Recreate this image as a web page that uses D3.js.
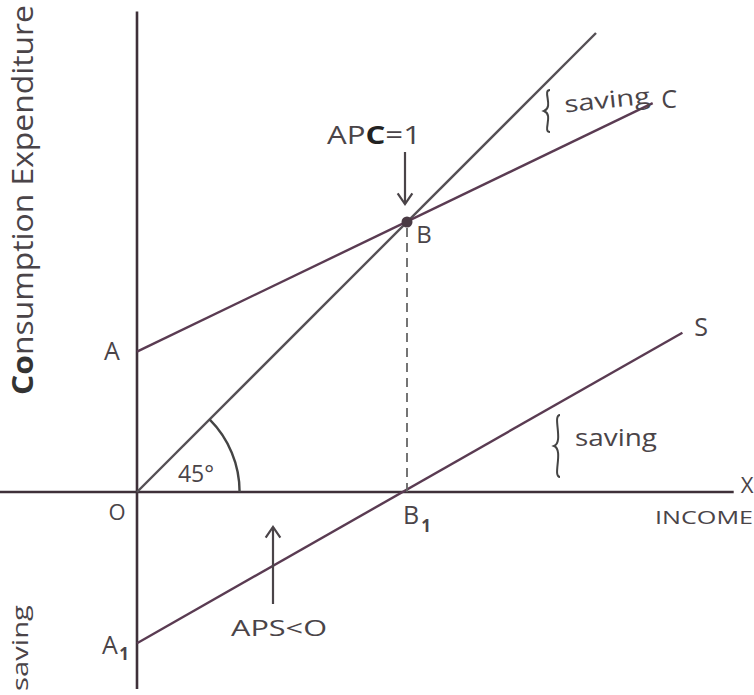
<!DOCTYPE html>
<html>
<head>
<meta charset="utf-8">
<script src="https://cdn.jsdelivr.net/npm/d3@7"></script>
<style>
  html, body { margin: 0; padding: 0; background: #ffffff; }
  svg { display: block; }
  text { font-family: "Open Sans", "Noto Sans", sans-serif; fill: #4a4448; }
</style>
</head>
<body>
<svg id="chart" width="754" height="695"></svg>
<script>
// ---- data (income / expenditure units) ----
const incomeExtent = [-51, 221];          // horizontal axis (income)
const valueExtent = [178, -73];           // vertical axis (expenditure / saving)
const line45 = [[0, 0], [170, 170]];      // 45 degree line
const consumption = [[0, 52], [191, 144]];// C line, starts at A
const saving = [[0, -56], [202, 59]];     // S line, starts at A1
const breakEven = [100, 100];             // point B
const breakEvenIncome = [100, 0];         // point B1
const angleLabel = "45°";

// ---- scales ----
const x = d3.scaleLinear().domain([0, 100]).range([137, 407]);
const y = d3.scaleLinear().domain([0, 100]).range([492, 222]);

const svg = d3.select("#chart");
const line = d3.line().x(d => x(d[0])).y(d => y(d[1]));

const axisColor = "#3e3039";
const cColor = "#5a3b52";
const gray = "#555055";

// axes
svg.append("line")
  .attr("x1", x(incomeExtent[0])).attr("x2", x(incomeExtent[1]))
  .attr("y1", y(0)).attr("y2", y(0))
  .attr("stroke", axisColor).attr("stroke-width", 2.6);
svg.append("line")
  .attr("x1", x(0)).attr("x2", x(0))
  .attr("y1", y(valueExtent[0])).attr("y2", y(valueExtent[1]))
  .attr("stroke", axisColor).attr("stroke-width", 2.6);

// 45 degree line
svg.append("path").datum(line45).attr("d", line)
  .attr("fill", "none").attr("stroke", gray).attr("stroke-width", 2.4);

// consumption line
svg.append("path").datum(consumption).attr("d", line)
  .attr("fill", "none").attr("stroke", cColor).attr("stroke-width", 2.4);

// saving line
svg.append("path").datum(saving).attr("d", line)
  .attr("fill", "none").attr("stroke", cColor).attr("stroke-width", 2.4);

// dashed drop from B to B1
svg.append("line")
  .attr("x1", x(breakEven[0])).attr("x2", x(breakEvenIncome[0]))
  .attr("y1", y(breakEven[1]) + 6).attr("y2", y(breakEvenIncome[1]))
  .attr("stroke", "#666").attr("stroke-width", 1.8)
  .attr("stroke-dasharray", "9,6");

// point B
svg.append("circle").attr("cx", x(breakEven[0])).attr("cy", y(breakEven[1]))
  .attr("r", 5.5).attr("fill", "#4a3a44");

// 45 degree arc
const r = x(38) - x(0);
const arc = d3.arc().innerRadius(r).outerRadius(r)
  .startAngle(Math.PI / 4).endAngle(Math.PI / 2);
svg.append("path").attr("d", arc())
  .attr("transform", `translate(${x(0)},${y(0)})`)
  .attr("fill", "none").attr("stroke", "#444").attr("stroke-width", 2.4);

// arrows
function arrow(x0, y0, x1, y1) {
  svg.append("line").attr("x1", x0).attr("y1", y0).attr("x2", x1).attr("y2", y1)
    .attr("stroke", "#4a4448").attr("stroke-width", 2.2);
  const ang = Math.atan2(y1 - y0, x1 - x0);
  const L = 13, spread = 0.6;
  const p1 = [x1 - L * Math.cos(ang - spread), y1 - L * Math.sin(ang - spread)];
  const p2 = [x1 - L * Math.cos(ang + spread), y1 - L * Math.sin(ang + spread)];
  svg.append("path").attr("d", `M${p1[0]},${p1[1]}L${x1},${y1}L${p2[0]},${p2[1]}`)
    .attr("fill", "none").attr("stroke", "#4a4448").attr("stroke-width", 2.2)
    .attr("stroke-linejoin", "miter");
}
arrow(x(breakEven[0]) - 2, 152, x(breakEven[0]) - 2, 204);
arrow(273, 604, 273, 527);

// braces
function brace(bx, y0, y1) {
  const m = (y0 + y1) / 2;
  const d = `M${bx + 2},${y0} C${bx - 6},${y0} ${bx + 6},${m - 4} ${bx - 4},${m}`
          + ` C${bx + 6},${m + 4} ${bx - 6},${y1} ${bx + 2},${y1}`;
  svg.append("path").attr("d", d).attr("fill", "none")
    .attr("stroke", "#444").attr("stroke-width", 2);
}
brace(548, 90, 132);
brace(558, 415, 477);

// ---- text ----
function label(txt, tx, ty, size, opts = {}) {
  const t = svg.append("text").attr("x", tx).attr("y", ty)
    .attr("font-size", size).text(txt);
  if (opts.anchor) t.attr("text-anchor", opts.anchor);
  if (opts.rotate !== undefined) t.attr("transform", `rotate(${opts.rotate},${tx},${ty})`);
  if (opts.len) t.attr("textLength", opts.len).attr("lengthAdjust", "spacingAndGlyphs");
  if (opts.weight) t.attr("font-weight", opts.weight);
  return t;
}

// axis titles
const yTitle = svg.append("text")
  .attr("transform", "translate(33,200) rotate(-90)")
  .attr("text-anchor", "middle").attr("font-size", 29)
  .attr("textLength", 390).attr("lengthAdjust", "spacingAndGlyphs");
yTitle.append("tspan").attr("font-weight", "bold").attr("fill", "#333").text("Co");
yTitle.append("tspan").text("nsumption Expenditure");

label("saving", 28, 648, 22, { anchor: "middle", rotate: -90, len: 86 });
label("INCOME", 704, 524, 19, { anchor: "middle", len: 98 });
label("X", 747, 493, 22, { anchor: "middle" });

// point labels
label("A", 112, 360, 25, { anchor: "middle" });
const a1 = label("A", 110, 654, 25, { anchor: "middle" });
label("1", 124, 660, 17, { anchor: "middle", weight: "bold" });
label("O", 117, 520, 22, { anchor: "middle" });
label("B", 424, 243, 24, { anchor: "middle" });
label("B", 411, 524, 25, { anchor: "middle" });
label("1", 426, 532, 17, { anchor: "middle", weight: "bold" });
label("C", 669, 108, 25, { anchor: "middle" });
label("S", 701, 336, 25, { anchor: "middle" });

// annotations
const apc = svg.append("text").attr("x", 374).attr("y", 144)
  .attr("text-anchor", "middle").attr("font-size", 25)
  .attr("textLength", 94).attr("lengthAdjust", "spacingAndGlyphs");
apc.append("tspan").text("AP");
apc.append("tspan").attr("font-weight", "bold").attr("fill", "#222").text("C");
apc.append("tspan").text("=1");

label("APS<O", 279, 636, 21, { anchor: "middle", len: 96 });
label(angleLabel, 196, 482, 23, { anchor: "middle" });
label("saving", 608, 108, 23, { anchor: "middle", rotate: -6, len: 86 });
label("saving", 616, 446, 24, { anchor: "middle", len: 82 });
</script>
</body>
</html>
